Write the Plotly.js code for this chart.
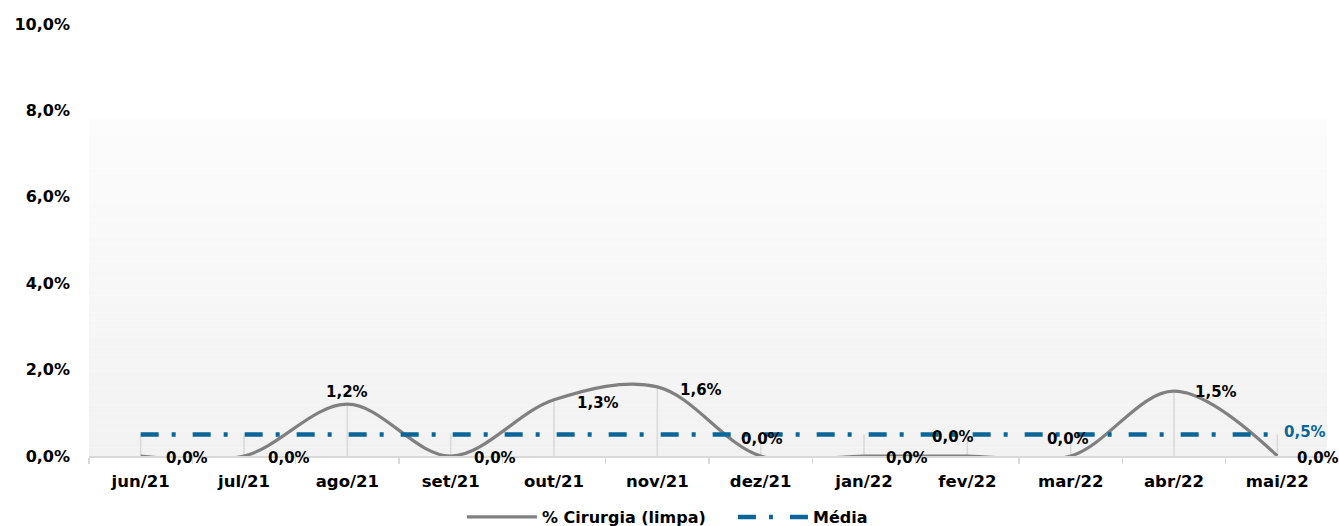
<!DOCTYPE html>
<html>
<head>
<meta charset="utf-8">
<script src="https://cdn.plot.ly/plotly-3.0.1.min.js"></script>
<style>html,body{margin:0;padding:0;background:#fff;}#chart{width:1339px;height:526px;}</style>
</head>
<body>
<div id="chart"></div>
<script>
// ---- data ----
const categories = ["jun/21","jul/21","ago/21","set/21","out/21","nov/21","dez/21","jan/22","fev/22","mar/22","abr/22","mai/22"];
const cirurgiaLimpa = [0.0, 0.0, 1.2, 0.0, 1.3, 1.6, 0.0, 0.0, 0.0, 0.0, 1.5, 0.0];
const media = [0.5, 0.5, 0.5, 0.5, 0.5, 0.5, 0.5, 0.5, 0.5, 0.5, 0.5, 0.5];
const yTickVals = [0, 2, 4, 6, 8, 10];
const yTickText = ["0,0%","2,0%","4,0%","6,0%","8,0%","10,0%"];
const seriesNames = ["% Cirurgia (limpa)", "Média"];

// ---- styling ----
const FONT = "'DejaVu Sans', sans-serif";
const GRAY = "#808080";
const BLUE = "#0a6699";
const fmt = v => v.toFixed(1).replace(".", ",") + "%";

// label offsets (px) for each point of the main series
const labelShift = [[46,-2],[45,-2],[0,12],[44,-2],[44,-3],[44,-3],[1,17],[43,-2],[-14,19],[-3,17],[42,-1],[41,-2]];

// drop lines from the higher of the two series down to the axis
const dropX = [], dropY = [];
categories.forEach((c, i) => {
  dropX.push(c, c, null);
  dropY.push(0, Math.max(cirurgiaLimpa[i], media[i]), null);
});

const traces = [
  {x: dropX, y: dropY, mode: "lines", line: {color: "#d9d9d9", width: 1.5}, showlegend: false, hoverinfo: "skip"},
  {x: categories, y: cirurgiaLimpa, name: seriesNames[0], mode: "lines",
   line: {color: GRAY, width: 3.2, shape: "spline", smoothing: 1}},
  {x: categories, y: media, name: seriesNames[1], mode: "lines",
   line: {color: BLUE, width: 4.5, dash: "18px,13px,4px,17px"}}
];

const annotations = categories.map((c, i) => ({
  x: c, y: cirurgiaLimpa[i], text: "<b>" + fmt(cirurgiaLimpa[i]) + "</b>", showarrow: false,
  xshift: labelShift[i][0], yshift: labelShift[i][1],
  font: {family: FONT, size: 15, color: "#000"}
}));
const lastIdx = categories.length - 1;
annotations.push({x: categories[lastIdx], y: media[lastIdx], text: "<b>" + fmt(media[lastIdx]) + "</b>", showarrow: false,
  xshift: 28, yshift: 2, font: {family: FONT, size: 15, color: BLUE}});

// gradient background made of thin bands
const shapes = [];
const NBANDS = 40, BG_TOP = 7.82;
for (let k = 0; k < NBANDS; k++) {
  const t = k / (NBANDS - 1);
  const c = Math.round(242 + (252 - 242) * t);
  shapes.push({type: "rect", xref: "paper", yref: "y", x0: 0, x1: 0.9984,
    y0: BG_TOP * k / NBANDS, y1: BG_TOP * (k + 1) / NBANDS, fillcolor: `rgb(${c},${c},${c})`,
    line: {width: 0}, layer: "below"});
}

const layout = {
  width: 1339, height: 526,
  margin: {l: 89, r: 10, t: 24, b: 70},
  paper_bgcolor: "#fff", plot_bgcolor: "rgba(0,0,0,0)",
  font: {family: FONT, color: "#000"},
  showlegend: true,
  legend: {orientation: "h", x: 0.345, xanchor: "left", xref: "container", y: 0.017, yref: "container", yanchor: "middle",
    font: {family: FONT, size: 16, color: "#000", weight: "bold"}, itemwidth: 70, entrywidth: 186, traceorder: "normal"},
  xaxis: {type: "category", range: [-0.5, 11.5], showgrid: false, zeroline: false,
    showline: true, linecolor: "#d9d9d9", linewidth: 1.5,
    ticks: "outside", tickson: "boundaries", ticklen: 6, tickcolor: "#d9d9d9", tickwidth: 1.5,
    tickfont: {family: FONT, size: 16.5, weight: "bold", color: "#000"}, ticklabelstandoff: 10},
  yaxis: {range: [0, 10], tickvals: yTickVals, ticktext: yTickText, showgrid: false, zeroline: false,
    showline: false, ticks: "", tickfont: {family: FONT, size: 16, weight: "bold", color: "#000"},
    ticklabelstandoff: 18},
  shapes: shapes,
  annotations: annotations
};

Plotly.newPlot("chart", traces, layout, {displayModeBar: false, staticPlot: true});
</script>
</body>
</html>
